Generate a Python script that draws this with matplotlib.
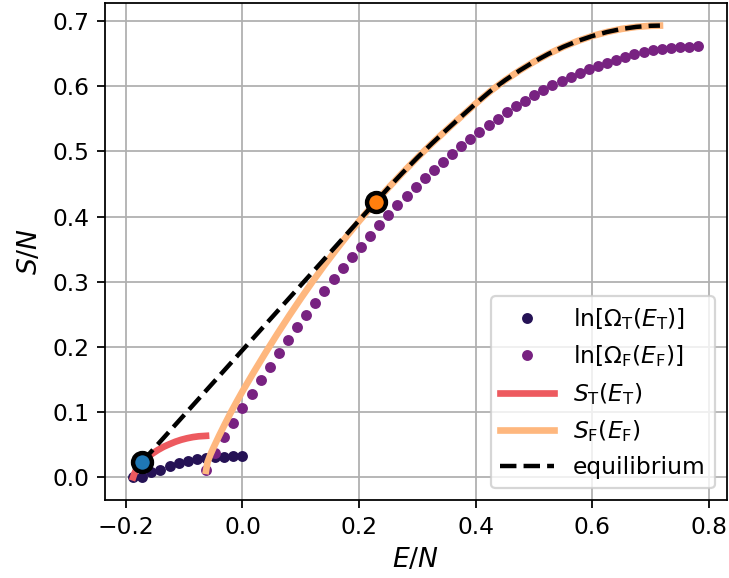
import numpy as np
import matplotlib
matplotlib.use("Agg")
import matplotlib.pyplot as plt

# ln Omega_T dots
E_T_dots = [-0.1875, -0.1719, -0.1563, -0.1406, -0.1250, -0.1094, -0.0938,
            -0.0781, -0.0625, -0.0469, -0.0313, -0.0156, 0.0]
S_T_dots = [0.0, 0.001, 0.008, 0.012, 0.018, 0.022, 0.025,
            0.028, 0.0297, 0.0313, 0.032, 0.0323, 0.0324]

# ln Omega_F dots
E_F_dots = [-0.0625, -0.0469, -0.0313, -0.0156, 0.0000, 0.0156, 0.0313, 0.0469,
            0.0625, 0.0781, 0.0938, 0.1094, 0.1250, 0.1406, 0.1563, 0.1719,
            0.1875, 0.2031, 0.2188, 0.2344, 0.2500, 0.2656, 0.2813, 0.2969,
            0.3125, 0.3281, 0.3438, 0.3594, 0.3750, 0.3906, 0.4063, 0.4219,
            0.4375, 0.4531, 0.4688, 0.4844, 0.5000, 0.5156, 0.5313, 0.5469,
            0.5625, 0.5781, 0.5938, 0.6094, 0.6250, 0.6406, 0.6563, 0.6719,
            0.6875, 0.7031, 0.7188, 0.7344, 0.7500, 0.7656, 0.7813]
S_F_dots = [0.0118, 0.038, 0.062, 0.084, 0.106, 0.128, 0.1496, 0.170,
            0.1905, 0.211, 0.2305, 0.249, 0.268, 0.286, 0.304, 0.3214,
            0.338, 0.354, 0.370, 0.3865, 0.4023, 0.4171, 0.4314, 0.4452,
            0.4585, 0.4717, 0.4839, 0.4962, 0.508, 0.5197, 0.5305, 0.5406,
            0.5504, 0.5605, 0.5692, 0.578, 0.586, 0.5937, 0.6014, 0.608,
            0.6141, 0.6202, 0.6259, 0.6315, 0.6361, 0.6407, 0.6453, 0.6488,
            0.6519, 0.655, 0.657, 0.6585, 0.6596, 0.6606, 0.6611]

# S_T(E_T) curve
E_T = [-0.1875, -0.186, -0.184, -0.181, -0.177, -0.1724, -0.165, -0.155,
       -0.145, -0.135, -0.125, -0.115, -0.105, -0.095, -0.085, -0.075, -0.0625]
S_T = [0.0, 0.004, 0.0085, 0.0135, 0.019, 0.0236, 0.029, 0.0361,
       0.042, 0.047, 0.051, 0.0547, 0.0577, 0.060, 0.0618, 0.063, 0.0637]

# S_F(E_F) curve
E_F = [-0.0625, -0.06, -0.055, -0.05, -0.04, -0.03, -0.02, -0.01, 0.0,
       0.02, 0.04, 0.06, 0.08, 0.10, 0.12, 0.14, 0.16, 0.18, 0.20, 0.2285,
       0.25, 0.275, 0.30, 0.325, 0.35, 0.375, 0.40, 0.425, 0.45, 0.475,
       0.50, 0.525, 0.55, 0.575, 0.60, 0.625, 0.65, 0.675, 0.70, 0.7156]
S_F = [0.010, 0.023, 0.035, 0.045, 0.064, 0.082, 0.0995, 0.116, 0.132,
       0.1624, 0.1919, 0.2204, 0.2479, 0.2745, 0.3002, 0.3249, 0.3485, 0.3713, 0.3932, 0.4227,
       0.444, 0.4678, 0.4906, 0.5124, 0.5332, 0.5535, 0.5735, 0.5925, 0.6091, 0.6241,
       0.6377, 0.6498, 0.6604, 0.6695, 0.6771, 0.6832, 0.6879, 0.691, 0.6927, 0.693]

# equilibrium (tangent) points
E_eq_T, S_eq_T = -0.1724, 0.0236
E_eq_F, S_eq_F = 0.2285, 0.4227

cols = plt.cm.magma([0.15, 0.35, 0.65, 0.85])

plt.rcParams['font.size'] = 10.5

fig, ax = plt.subplots(figsize=(729/160, 578/160), dpi=160)
fig.subplots_adjust(left=0.1438, right=0.9966, bottom=0.135, top=0.9948)

ax.plot(E_T_dots, S_T_dots, 'o', ms=3.9, color=cols[0], label=r'$\ln[\Omega_{\rm T}(E_{\rm T})]$')
ax.plot(E_F_dots, S_F_dots, 'o', ms=3.9, color=cols[1], label=r'$\ln[\Omega_{\rm F}(E_{\rm F})]$')
ax.plot(E_T, S_T, '-', lw=3, color=cols[2], label=r'$S_{\rm T}(E_{\rm T})$')
ax.plot(E_F, S_F, '-', lw=3, color=cols[3], label=r'$S_{\rm F}(E_{\rm F})$')

E_F = np.array(E_F)
S_F = np.array(S_F)
keep = E_F >= E_eq_F
eq_E = np.concatenate([[E_eq_T], E_F[keep]])
eq_S = np.concatenate([[S_eq_T], S_F[keep]])
ax.plot(eq_E, eq_S, '--', lw=2, color='black', label='equilibrium')

ax.plot(E_eq_T, S_eq_T, 'o', ms=8.5, mew=2, mfc='C0', mec='black', zorder=5)
ax.plot(E_eq_F, S_eq_F, 'o', ms=8.5, mew=2, mfc='C1', mec='black', zorder=5)

ax.set_xlabel(r'$E/N$', fontsize=12)
ax.set_ylabel(r'$S/N$', fontsize=12)
ax.grid(True)
ax.legend(loc='lower right', fontsize=10.5, handlelength=2.3)

plt.savefig('out.png', dpi=160)
